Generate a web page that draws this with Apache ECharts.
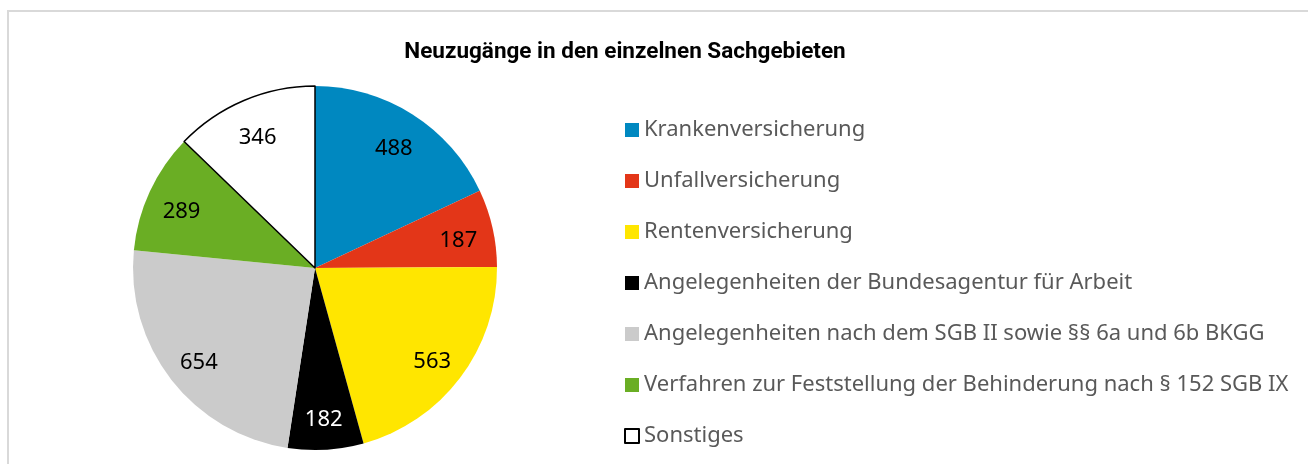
<!DOCTYPE html>
<html>
<head>
<meta charset="utf-8">
<script src="https://cdn.jsdelivr.net/npm/echarts@6/dist/echarts.min.js"></script>
<style>
  html, body { margin: 0; padding: 0; background: #fff; }
  #chart { width: 1308px; height: 464px; }
</style>
</head>
<body>
<div id="chart"></div>
<script>
  // data
  let categories = [
    'Krankenversicherung',
    'Unfallversicherung',
    'Rentenversicherung',
    'Angelegenheiten der Bundesagentur für Arbeit',
    'Angelegenheiten nach dem SGB II sowie §§ 6a und 6b BKGG',
    'Verfahren zur Feststellung der Behinderung nach § 152 SGB IX',
    'Sonstiges'
  ];
  let values = [488, 187, 563, 182, 654, 289, 346];
  let colors = ['#0088c0', '#e33618', '#ffe600', '#000000', '#cbcbcb', '#6aae24', '#ffffff'];
  let labelColors = ['#000', '#000', '#000', '#fff', '#000', '#000', '#000'];

  let chart = echarts.init(document.getElementById('chart'));

  let pieData = categories.map((name, i) => {
    let item = { name: name, value: values[i], itemStyle: { color: colors[i] } };
    if (name === 'Sonstiges') {
      item.itemStyle.borderColor = '#000';
      item.itemStyle.borderWidth = 1.5;
    }
    return item;
  });

  // transparent ring only used to place the value labels further out
  let labelData = categories.map((name, i) => {
    return {
      name: name,
      value: values[i],
      itemStyle: { color: 'rgba(0,0,0,0)' },
      label: { color: labelColors[i] }
    };
  });

  let option = {
    animation: false,
    title: {
      text: 'Neuzugänge in den einzelnen Sachgebieten',
      left: 620,
      top: 36,
      textAlign: 'center',
      textStyle: {
        fontFamily: 'Roboto',
        fontWeight: 'bold',
        fontSize: 22.5,
        color: '#000'
      }
    },
    legend: {
      orient: 'vertical',
      left: 619,
      top: 114,
      itemWidth: 14,
      itemHeight: 14,
      itemGap: 29,
      icon: 'rect',
      data: categories,
      textStyle: {
        fontFamily: 'Noto Sans',
        fontSize: 22,
        lineHeight: 22,
        color: '#595959'
      }
    },
    graphic: [
      {
        type: 'rect',
        shape: { x: 8, y: 11, width: 1400, height: 600 },
        style: { fill: 'none', stroke: '#d9d9d9', lineWidth: 2 },
        z: -1
      }
    ],
    series: [
      {
        type: 'pie',
        center: [315, 268],
        radius: [0, 182],
        startAngle: 90,
        clockwise: true,
        label: { show: false },
        labelLine: { show: false },
        silent: true,
        data: pieData
      },
      {
        type: 'pie',
        center: [315, 268],
        radius: [106, 182],
        startAngle: 90,
        clockwise: true,
        silent: true,
        legendHoverLink: false,
        label: {
          show: true,
          position: 'inside',
          formatter: '{c}',
          fontFamily: 'Noto Sans',
          fontSize: 22,
          offset: [0, 5]
        },
        labelLine: { show: false },
        data: labelData
      }
    ]
  };

  chart.setOption(option);
</script>
</body>
</html>
